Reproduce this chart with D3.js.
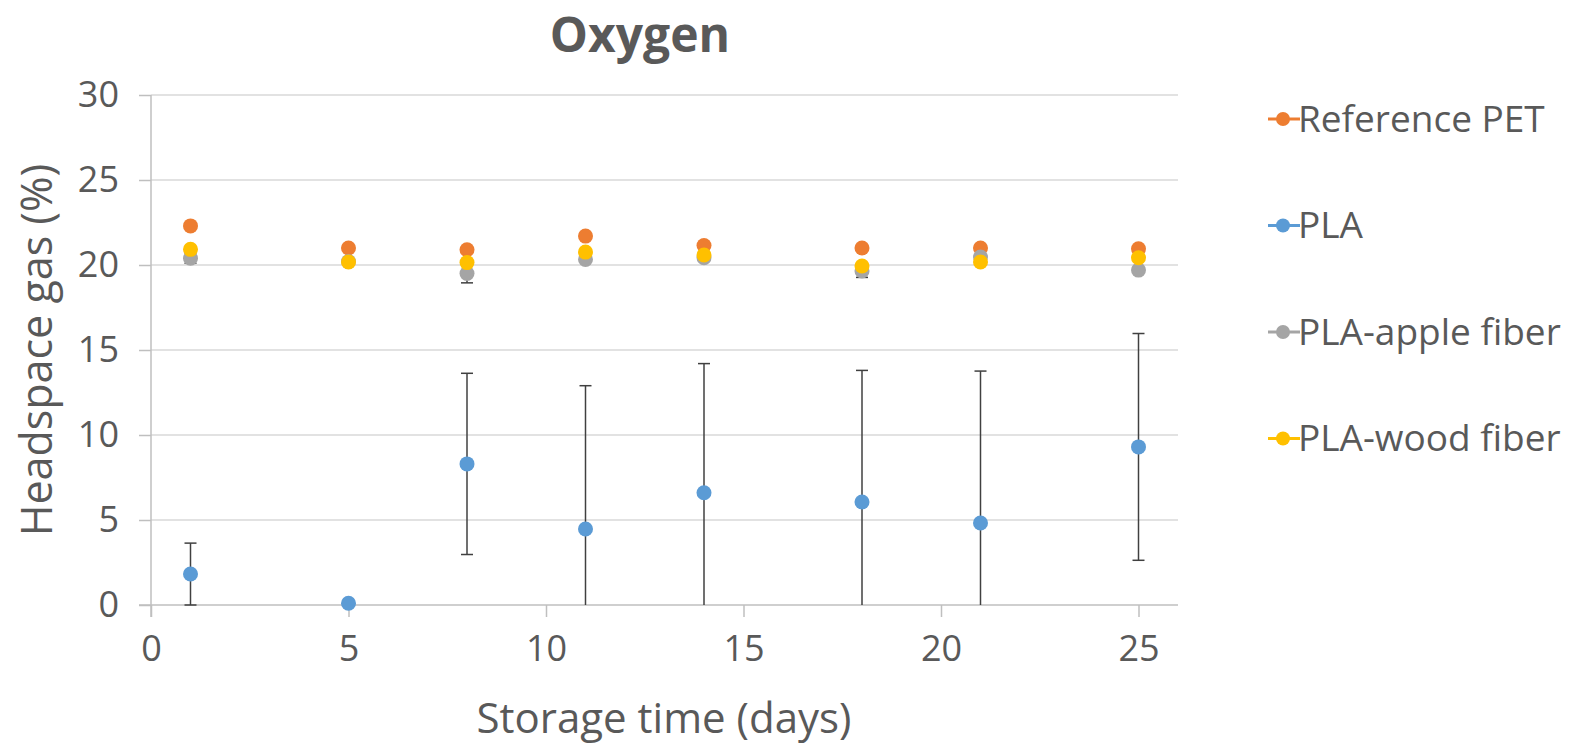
<!DOCTYPE html>
<html>
<head>
<meta charset="utf-8">
<script src="https://cdn.jsdelivr.net/npm/d3@7"></script>
<style>
  body { margin: 0; background: #fff; }
  svg { display: block; font-family: 'Open Sans', sans-serif; }
</style>
</head>
<body>
<svg id="chart" width="1583" height="753"></svg>
<script>
const days = [1, 5, 8, 11, 14, 18, 21, 25];

const seriesNames = ['Reference PET', 'PLA', 'PLA-apple fiber', 'PLA-wood fiber'];
const seriesColors = ['#ED7D31', '#5B9BD5', '#A5A5A5', '#FFC000'];

const petValues = [22.3, 21.0, 20.9, 21.7, 21.15, 21.0, 21.0, 20.95];
const petErrors = [0, 0, 0, 0, 0, 0, 0, 0];

const plaValues = [1.82, 0.1, 8.3, 4.47, 6.6, 6.06, 4.82, 9.3];
const plaErrors = [1.82, 0, 5.33, 8.43, 7.6, 7.74, 8.94, 6.67];

const appleValues = [20.4, 20.2, 19.5, 20.33, 20.43, 19.65, 20.47, 19.7];
const appleErrors = [0.3, 0.1, 0.55, 0.1, 0.1, 0.38, 0.1, 0.1];

const woodValues = [20.92, 20.18, 20.14, 20.76, 20.59, 19.94, 20.18, 20.43];
const woodErrors = [0, 0, 0, 0, 0, 0, 0, 0];

const xTicks = [0, 5, 10, 15, 20, 25];
const yTicks = [0, 5, 10, 15, 20, 25, 30];

const seriesValues = [petValues, plaValues, appleValues, woodValues];
const seriesErrors = [petErrors, plaErrors, appleErrors, woodErrors];

const margin = {left: 151, top: 95, right: 405, bottom: 148};
const textColor = '#595959';
const svg = d3.select('#chart');
const width = +svg.attr('width');
const height = +svg.attr('height');

const x = d3.scaleLinear()
    .domain([0, 26])
    .range([margin.left, width - margin.right]);

const y = d3.scaleLinear()
    .domain([0, 30])
    .range([height - margin.bottom, margin.top]);

// GRIDLINES
svg.append('g')
    .selectAll('line')
    .data(yTicks.filter(t => t > 0))
    .join('line')
    .attr('x1', x(0))
    .attr('x2', x(26))
    .attr('y1', d => y(d))
    .attr('y2', d => y(d))
    .attr('stroke', '#D9D9D9')
    .attr('stroke-width', 1.5);

// AXES
const yAxis = svg.append('g')
    .attr('transform', `translate(${x(0)},0)`)
    .call(d3.axisLeft(y).tickValues(yTicks).tickSize(12).tickPadding(20));

const xAxis = svg.append('g')
    .attr('transform', `translate(0,${y(0)})`)
    .call(d3.axisBottom(x).tickValues(xTicks).tickSize(12).tickPadding(18));

svg.selectAll('.tick text')
    .attr('font-family', "'Open Sans', sans-serif")
    .attr('font-size', 36)
    .attr('fill', textColor);
svg.selectAll('.domain').attr('stroke', '#BFBFBF').attr('stroke-width', 1.5);
svg.selectAll('.tick line').attr('stroke', '#BFBFBF').attr('stroke-width', 1.5);
xAxis.select('.domain').attr('d', `M${x(0) - 12},0H${x(26)}`);
yAxis.select('.domain').attr('d', `M0,${y(0) + 12}V${y(30)}`);

// ERROR BARS AND POINTS
const capW = 6;
seriesNames.forEach((name, s) => {
    const pts = days.map((d, i) => ({
        x: d,
        v: seriesValues[s][i],
        e: seriesErrors[s][i]
    }));
    const g = svg.append('g').attr('class', 'series');
    const bars = g.selectAll('.err')
        .data(pts.filter(p => p.e > 0))
        .join('g')
        .attr('class', 'err')
        .attr('stroke', '#404040')
        .attr('stroke-width', 1.5);
    bars.append('line')
        .attr('x1', p => x(p.x))
        .attr('x2', p => x(p.x))
        .attr('y1', p => y(Math.max(0, p.v - p.e)))
        .attr('y2', p => y(p.v + p.e));
    bars.append('line')
        .attr('x1', p => x(p.x) - capW)
        .attr('x2', p => x(p.x) + capW)
        .attr('y1', p => y(p.v + p.e))
        .attr('y2', p => y(p.v + p.e));
    bars.filter(p => p.v - p.e >= -0.001)
        .append('line')
        .attr('x1', p => x(p.x) - capW)
        .attr('x2', p => x(p.x) + capW)
        .attr('y1', p => y(p.v - p.e))
        .attr('y2', p => y(p.v - p.e));
    g.selectAll('circle')
        .data(pts)
        .join('circle')
        .attr('cx', p => x(p.x))
        .attr('cy', p => y(p.v))
        .attr('r', 7.5)
        .attr('fill', seriesColors[s]);
});

// TEXT
svg.append('text')
    .attr('x', 640)
    .attr('y', 52)
    .attr('text-anchor', 'middle')
    .attr('font-size', 48)
    .attr('font-weight', 'bold')
    .attr('fill', textColor)
    .text('Oxygen');

svg.append('text')
    .attr('x', 664)
    .attr('y', 733)
    .attr('text-anchor', 'middle')
    .attr('font-size', 42)
    .attr('fill', textColor)
    .text('Storage time (days)');

svg.append('text')
    .attr('transform', `translate(52,${y(15)}) rotate(-90)`)
    .attr('text-anchor', 'middle')
    .attr('font-size', 43)
    .attr('fill', textColor)
    .text('Headspace gas (%)');

// LEGEND
const legend = svg.append('g')
    .selectAll('g')
    .data(seriesNames)
    .join('g')
    .attr('transform', (d, i) => `translate(1268,${119 + i * 106.5})`);
legend.append('line')
    .attr('x1', 0)
    .attr('x2', 32)
    .attr('stroke', (d, i) => seriesColors[i])
    .attr('stroke-width', 3);
legend.append('circle')
    .attr('cx', 15)
    .attr('r', 7)
    .attr('fill', (d, i) => seriesColors[i]);
legend.append('text')
    .attr('x', 30)
    .attr('dy', '0.35em')
    .attr('font-size', 37)
    .attr('fill', textColor)
    .text(d => d);
</script>
</body>
</html>
